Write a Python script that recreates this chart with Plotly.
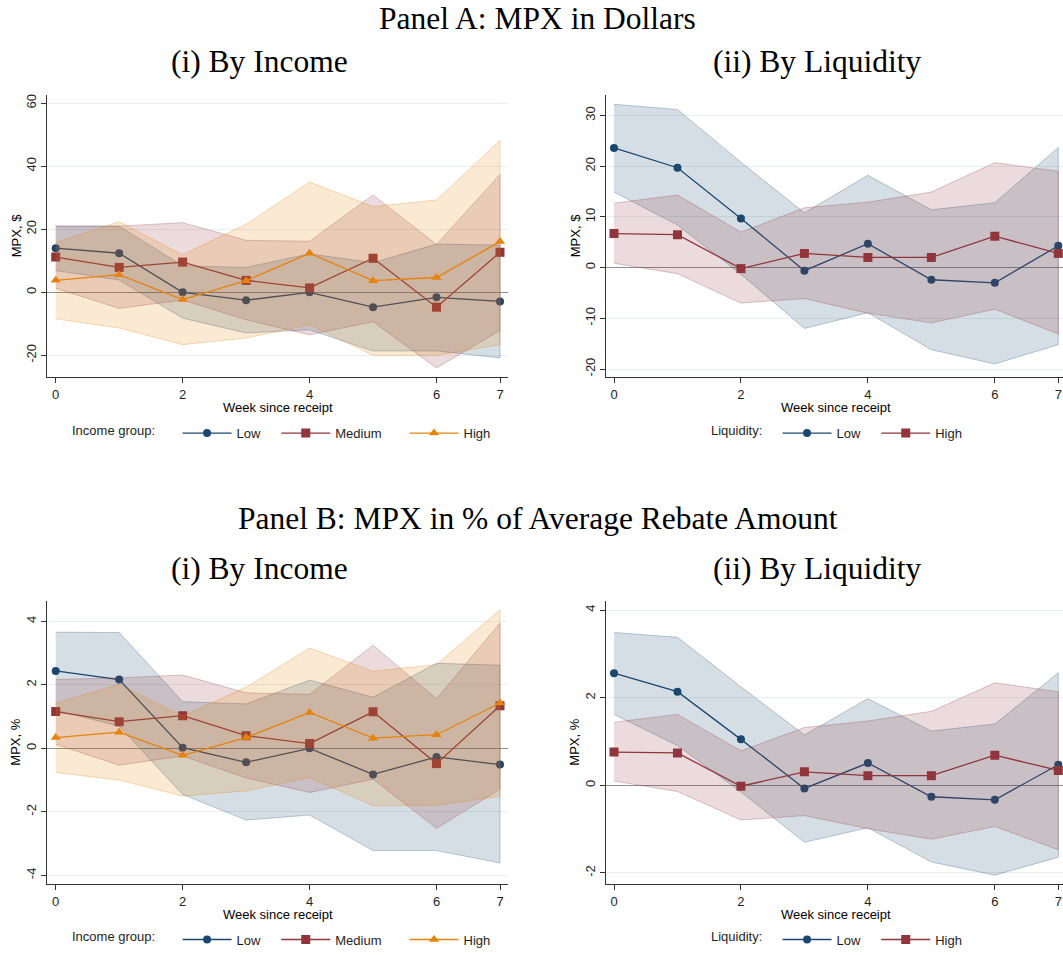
import plotly.graph_objects as go

weeks = [0, 1, 2, 3, 4, 5, 6, 7]

# ---------- Panel A (i): MPX in dollars by income ----------
a_inc_low = [14.0, 12.4, 0.0, -2.5, 0.0, -4.7, -1.6, -2.9]
a_inc_low_hi = [21.0, 21.0, 8.4, 7.9, 12.2, 9.4, 15.3, 15.0]
a_inc_low_lo = [6.9, 3.9, -8.2, -12.9, -11.9, -18.6, -18.6, -20.8]
a_inc_med = [11.2, 7.9, 9.6, 3.8, 1.4, 10.8, -4.7, 12.7]
a_inc_med_hi = [21.0, 21.0, 22.1, 16.5, 16.2, 30.9, 15.2, 37.4]
a_inc_med_lo = [1.3, -5.1, -2.4, -8.7, -13.5, -9.3, -24.0, -12.1]
a_inc_high = [3.8, 5.6, -2.3, 3.7, 12.4, 3.7, 4.7, 16.1]
a_inc_high_hi = [15.8, 22.4, 11.9, 21.6, 35.0, 27.2, 29.3, 48.2]
a_inc_high_lo = [-8.4, -11.3, -16.6, -14.5, -10.3, -20.0, -20.0, -16.6]

# ---------- Panel A (ii): MPX in dollars by liquidity ----------
a_liq_low = [23.6, 19.7, 9.7, -0.6, 4.7, -2.4, -3.0, 4.3]
a_liq_low_hi = [32.2, 31.2, 20.8, 10.8, 18.2, 11.4, 12.8, 23.7]
a_liq_low_lo = [14.9, 8.4, -1.3, -12.0, -8.9, -16.2, -19.0, -15.2]
a_liq_high = [6.7, 6.5, -0.2, 2.8, 2.0, 2.0, 6.2, 2.8]
a_liq_high_hi = [12.7, 14.3, 7.0, 11.8, 12.9, 14.9, 20.7, 19.0]
a_liq_high_lo = [0.85, -1.2, -7.0, -6.1, -9.0, -10.9, -8.2, -13.1]

# ---------- Panel B (i): MPX in % by income ----------
b_inc_low = [2.44, 2.17, 0.02, -0.44, 0.0, -0.82, -0.27, -0.51]
b_inc_low_hi = [3.66, 3.65, 1.47, 1.40, 2.15, 1.61, 2.68, 2.62]
b_inc_low_lo = [1.20, 0.70, -1.45, -2.26, -2.10, -3.22, -3.22, -3.61]
b_inc_med = [1.16, 0.84, 1.03, 0.40, 0.15, 1.15, -0.48, 1.34]
b_inc_med_hi = [2.17, 2.22, 2.31, 1.75, 1.70, 3.25, 1.56, 3.95]
b_inc_med_lo = [0.13, -0.53, -0.24, -0.93, -1.39, -0.97, -2.52, -1.29]
b_inc_high = [0.34, 0.51, -0.22, 0.34, 1.13, 0.32, 0.43, 1.43]
b_inc_high_hi = [1.43, 2.02, 1.02, 1.93, 3.16, 2.43, 2.64, 4.37]
b_inc_high_lo = [-0.76, -1.00, -1.50, -1.34, -0.92, -1.81, -1.79, -1.52]

# ---------- Panel B (ii): MPX in % by liquidity ----------
b_liq_low = [2.56, 2.14, 1.05, -0.07, 0.51, -0.26, -0.33, 0.47]
b_liq_low_hi = [3.49, 3.38, 2.25, 1.15, 1.98, 1.24, 1.40, 2.57]
b_liq_low_lo = [1.62, 0.91, -0.15, -1.30, -0.97, -1.75, -2.05, -1.64]
b_liq_high = [0.76, 0.74, -0.02, 0.31, 0.22, 0.22, 0.69, 0.34]
b_liq_high_hi = [1.44, 1.62, 0.79, 1.32, 1.47, 1.69, 2.34, 2.14]
b_liq_high_lo = [0.10, -0.14, -0.79, -0.69, -0.99, -1.23, -0.94, -1.47]

x_ticks = [0, 2, 4, 6, 7]
a_inc_yticks = [-20, 0, 20, 40, 60]
a_liq_yticks = [-20, -10, 0, 10, 20, 30]
b_inc_yticks = [-4, -2, 0, 2, 4]
b_liq_yticks = [-2, 0, 2, 4]

NAVY = (26, 71, 111)
MAROON = (144, 53, 59)
ORANGE = (229, 131, 12)


def rgba(c, a):
    return "rgba(%d,%d,%d,%s)" % (c[0], c[1], c[2], a)


SANS = "Liberation Sans, Arial, sans-serif"
SERIF = "Liberation Serif, Times New Roman, serif"
TXT = "#1e1e1e"
NB = "\u00a0"

fig = go.Figure()


def add_group(xa, ya, legend, name, mean, lo, hi, color, symbol, msize, pad):
    fig.add_trace(go.Scatter(
        x=weeks + weeks[::-1], y=hi + lo[::-1], fill="toself",
        fillcolor=rgba(color, 0.18), line=dict(color=rgba(color, 0.28), width=1),
        mode="lines", hoverinfo="skip", showlegend=False, xaxis=xa, yaxis=ya))
    fig.add_trace(go.Scatter(
        x=weeks, y=mean, mode="lines+markers", name=name + NB * pad,
        line=dict(color=rgba(color, 1), width=1.3),
        marker=dict(color=rgba(color, 1), symbol=symbol, size=msize),
        showlegend=True, legend=legend, xaxis=xa, yaxis=ya))


add_group("x", "y", "legend", "Low", a_inc_low, a_inc_low_lo, a_inc_low_hi, NAVY, "circle", 8, 3)
add_group("x", "y", "legend", "Medium", a_inc_med, a_inc_med_lo, a_inc_med_hi, MAROON, "square", 9, 5)
add_group("x", "y", "legend", "High", a_inc_high, a_inc_high_lo, a_inc_high_hi, ORANGE, "triangle-up", 9, 0)

add_group("x2", "y2", "legend2", "Low", a_liq_low, a_liq_low_lo, a_liq_low_hi, NAVY, "circle", 8, 3)
add_group("x2", "y2", "legend2", "High", a_liq_high, a_liq_high_lo, a_liq_high_hi, MAROON, "square", 9, 0)

add_group("x3", "y3", "legend3", "Low", b_inc_low, b_inc_low_lo, b_inc_low_hi, NAVY, "circle", 8, 3)
add_group("x3", "y3", "legend3", "Medium", b_inc_med, b_inc_med_lo, b_inc_med_hi, MAROON, "square", 9, 5)
add_group("x3", "y3", "legend3", "High", b_inc_high, b_inc_high_lo, b_inc_high_hi, ORANGE, "triangle-up", 9, 0)

add_group("x4", "y4", "legend4", "Low", b_liq_low, b_liq_low_lo, b_liq_low_hi, NAVY, "circle", 8, 3)
add_group("x4", "y4", "legend4", "High", b_liq_high, b_liq_high_lo, b_liq_high_hi, MAROON, "square", 9, 0)

W, H = 1063, 955


def px_x(p):
    return p / W


def px_y(p):
    return 1 - p / H


AXCOL = "#333333"
GRID = "#e7eff1"


def xaxis(domain, rng, anchor):
    return dict(domain=domain, range=rng, anchor=anchor, tickvals=x_ticks,
                ticktext=[str(v) for v in x_ticks], showgrid=False, zeroline=False,
                showline=True, linecolor=AXCOL, linewidth=1.3, ticks="outside",
                ticklen=5, tickcolor=AXCOL, tickwidth=1.2,
                tickfont=dict(family=SANS, size=13, color=TXT))


def yaxis(domain, rng, anchor, ticks):
    return dict(domain=domain, range=rng, anchor=anchor, tickvals=ticks,
                ticktext=[str(v) for v in ticks], tickangle=-90,
                showgrid=True, gridcolor=GRID, gridwidth=1,
                zeroline=True, zerolinecolor="#8e8e8e", zerolinewidth=1.4,
                showline=True, linecolor=AXCOL, linewidth=1.3, ticks="outside",
                ticklen=5, tickcolor=AXCOL, tickwidth=1.2,
                tickfont=dict(family=SANS, size=13, color=TXT))


left_dom = [px_x(47), px_x(508)]
right_dom = [px_x(606), 1.0]
top_dom = [px_y(378.3), px_y(95)]
bot_dom = [px_y(886.7), px_y(603.3)]
left_rng = [-0.137, 7.126]
right_rng = [-0.126, 7.074]

fig.update_layout(
    xaxis=xaxis(left_dom, left_rng, "y"),
    yaxis=yaxis(top_dom, [-26.9, 62.7], "x", a_inc_yticks),
    xaxis2=xaxis(right_dom, right_rng, "y2"),
    yaxis2=yaxis(top_dom, [-21.6, 34.1], "x2", a_liq_yticks),
    xaxis3=xaxis(left_dom, left_rng, "y3"),
    yaxis3=yaxis(bot_dom, [-4.27, 4.63], "x3", b_inc_yticks),
    xaxis4=xaxis(right_dom, right_rng, "y4"),
    yaxis4=yaxis(bot_dom, [-2.25, 4.2], "x4", b_liq_yticks),
)


def legend_cfg(title, x, y):
    return dict(orientation="h", x=x, y=y, xanchor="left", yanchor="middle",
                bgcolor="rgba(0,0,0,0)", borderwidth=0, itemwidth=49,
                title=dict(text=title, side="left", font=dict(family=SANS, size=13, color=TXT)),
                font=dict(family=SANS, size=13, color=TXT), traceorder="normal")


fig.update_layout(
    legend=legend_cfg("Income group:" + NB * 4, px_x(70), px_y(434.5)),
    legend2=legend_cfg("Liquidity:" + NB * 2, px_x(709), px_y(434.5)),
    legend3=legend_cfg("Income group:" + NB * 4, px_x(70), px_y(942.5)),
    legend4=legend_cfg("Liquidity:" + NB * 2, px_x(709), px_y(942.5)),
)

annots = []


def text(t, x, y, size, family, angle=0):
    annots.append(dict(text=t, x=px_x(x), y=px_y(y), xref="paper", yref="paper",
                       showarrow=False, xanchor="center", yanchor="middle",
                       textangle=angle, font=dict(family=family, size=size, color="#000")))


TS = 31.5
text("Panel A: MPX in Dollars", 537.5, 19, TS, SERIF)
text("(i) By Income", 259.5, 62, TS, SERIF)
text("(ii) By Liquidity", 816.5, 62, TS, SERIF)
text("Panel B: MPX in % of Average Rebate Amount", 537.5, 520, TS, SERIF)
text("(i) By Income", 259.5, 570, TS, SERIF)
text("(ii) By Liquidity", 816.5, 570, TS, SERIF)

text("Week since receipt", 277.5, 408.5, 13, SANS)
text("Week since receipt", 836, 408.5, 13, SANS)
text("Week since receipt", 277.5, 917, 13, SANS)
text("Week since receipt", 836, 917, 13, SANS)
text("MPX, $", 16, 237, 13, SANS, -90)
text("MPX, $", 575, 237, 13, SANS, -90)
text("MPX, %", 16, 745, 13, SANS, -90)
text("MPX, %", 575, 745, 13, SANS, -90)

fig.update_layout(
    annotations=annots,
    width=W, height=H,
    margin=dict(l=0, r=0, t=0, b=0),
    paper_bgcolor="white", plot_bgcolor="white",
    showlegend=True,
)

fig.write_html("out.html", config={"displayModeBar": False},
               post_script="document.body.style.margin='0';document.body.style.overflow='hidden';")
